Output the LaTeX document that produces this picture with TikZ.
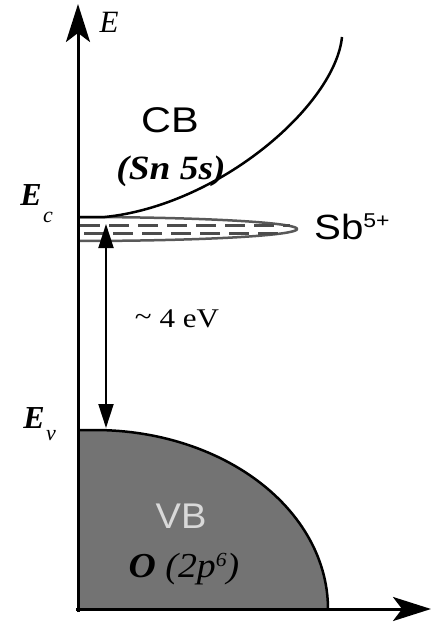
\documentclass[tikz,border=0pt]{standalone}
\usepackage{fontspec}
\usepackage{graphicx}
\setmainfont{Liberation Serif}
\setsansfont{Liberation Sans}
\usetikzlibrary{arrows.meta}
\definecolor{vbfill}{gray}{0.45}
\definecolor{bandline}{gray}{0.35}
\tikzset{
  axis/.style={line width=3pt, -{Stealth[length=38pt,width=24pt,inset=9pt]}},
  gaparrow/.style={line width=2pt, {Triangle[length=24pt,width=15pt]}-{Triangle[length=24pt,width=15pt]}},
  lbl/.style={inner sep=0pt, anchor=base},
  sans/.style={lbl, font=\sffamily\fontsize{34}{34}\selectfont},
  dashline/.style={line width=3pt, draw=black!70, dash pattern=on 20pt off 9pt}
}
\begin{document}
\begin{tikzpicture}[x=1pt,y=-1pt]
\useasboundingbox (0,0) rectangle (431,623);
% valence band
\fill[vbfill] (78,430) -- (95,430) -- plot[domain=90:0,samples=60] ({95+233*cos(\x)},{609-179*sin(\x)}) -- (78,609) -- cycle;
\draw[line width=2.5pt] (78,430) -- (95,430) -- plot[domain=90:0,samples=60] ({95+233*cos(\x)},{609-179*sin(\x)});
% Sb donor band
\draw[bandline, line width=2.5pt] (78,217) -- plot[domain=-90:90,samples=60] ({78+219*cos(\x)},{229+12*sin(\x)});
\draw[dashline] (80,225) -- (290,225);
\draw[dashline, dash phase=-4pt] (80,233) -- (280,233);
% conduction band edge
\draw[line width=2.5pt] (78,217) -- (105,217) .. controls (220,205) and (335,105) .. (342,37);
% axes
\coordinate (orig) at (78,612);
\coordinate (ytip) at (78,4);
\coordinate (xorig) at (76,609);
\coordinate (xtip) at (431,609);
\draw[axis] (orig) -- (ytip);
\draw[axis] (xorig) -- (xtip);
% gap arrow
\coordinate (gtop) at (106,224);
\coordinate (gbot) at (106,428);
\draw[gaparrow] (gtop) -- (gbot);
% labels
\node[lbl, font=\fontsize{31}{31}\selectfont\itshape] (Elab) at (109,33) {E};
\node[sans] (cb) at (170,132) {\scalebox{1.22}[1.05]{CB}};
\node[lbl, font=\fontsize{34}{34}\selectfont\bfseries\itshape] (sn) at (171,179) {\scalebox{1.1}[1]{(Sn 5s)}};
\node[lbl, font=\fontsize{32}{32}\selectfont\bfseries\itshape] (ec) at (31,205) {E};
\node[lbl, font=\fontsize{22}{22}\selectfont\itshape] (ecsub) at (48,222) {c};
\node[lbl, anchor=base west, font=\sffamily\fontsize{35}{35}\selectfont] (sb) at (314,239) {\scalebox{1.15}[1]{Sb\raisebox{12pt}{\fontsize{20}{20}\selectfont 5+}}};
\node[lbl, font=\fontsize{27}{27}\selectfont] (gap) at (177,327) {\scalebox{1.15}[1]{\raisebox{2pt}{\textasciitilde}\ 4 eV}};
\node[lbl, font=\fontsize{32}{32}\selectfont\bfseries\itshape] (ev) at (34,428) {E};
\node[lbl, font=\fontsize{22}{22}\selectfont\itshape] (evsub) at (51,440) {v};
\node[sans, text=black!15] (vb) at (181,528) {\scalebox{1.12}[1.05]{VB}};
\node[lbl, font=\fontsize{35}{35}\selectfont\itshape] (o) at (184,577) {\scalebox{1.08}[1]{\textbf{O} (2p\raisebox{11pt}{\fontsize{20}{20}\selectfont 6})}};
\end{tikzpicture}
\end{document}
